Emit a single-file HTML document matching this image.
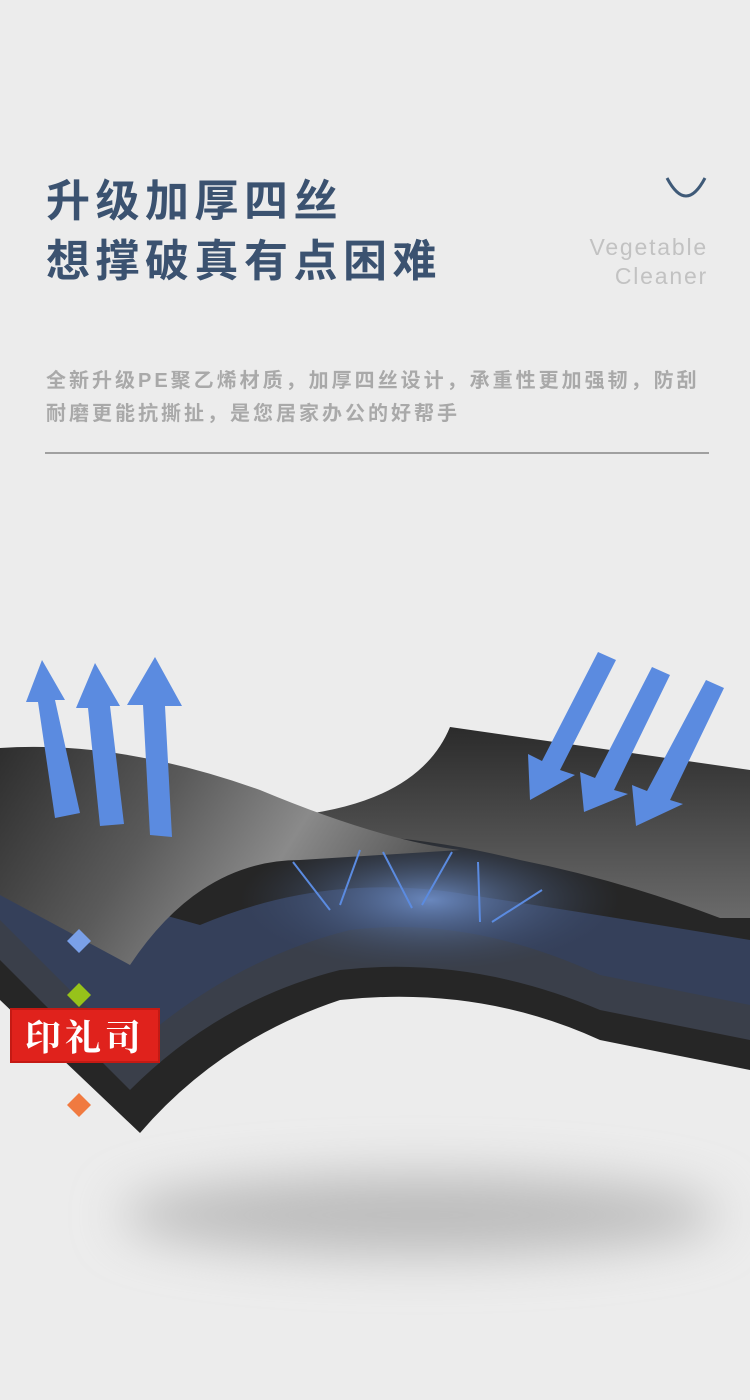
<!DOCTYPE html>
<html><head><meta charset="utf-8"><style>
body{margin:0;width:750px;height:1400px;background:#ececec;overflow:hidden;position:relative;font-family:"Liberation Sans","Noto Sans CJK SC",sans-serif}
.t{position:absolute;left:46px;font-size:44px;font-weight:bold;color:#3b5270;letter-spacing:5.5px;line-height:1}
.s{position:absolute;left:46px;font-size:20px;font-weight:bold;color:#a9a9a9;line-height:1;letter-spacing:3px}
.e{position:absolute;right:42px;font-size:23px;color:#c2c2c2;line-height:1;text-align:right;letter-spacing:1.8px}
</style></head><body>
<div class="t" style="top:180px">升级加厚四丝</div>
<div class="t" style="top:240px">想撑破真有点困难</div>
<svg style="position:absolute;left:664px;top:174px" width="44" height="30"><path d="M3 4 Q22 40 41 4" fill="none" stroke="#3f5a78" stroke-width="3"/></svg>
<div class="e" style="top:236px">Vegetable</div>
<div class="e" style="top:265px">Cleaner</div>
<div class="s" style="top:371px">全新升级PE聚乙烯材质，加厚四丝设计，承重性更加强韧，防刮</div>
<div class="s" style="top:404px">耐磨更能抗撕扯，是您居家办公的好帮手</div>
<div style="position:absolute;left:45px;top:452px;width:664px;height:2px;background:#a0a0a0"></div>
<svg style="position:absolute;left:0;top:0" width="750" height="1400">
<defs>
<linearGradient id="g1" x1="0" y1="0" x2="1" y2="0.3"><stop offset="0" stop-color="#2e2e2e"/><stop offset="0.4" stop-color="#5a5a5a"/><stop offset="0.7" stop-color="#8a8a8a"/><stop offset="1" stop-color="#555"/></linearGradient>
<linearGradient id="g2" x1="0" y1="0" x2="0" y2="1"><stop offset="0" stop-color="#2b2b2b"/><stop offset="1" stop-color="#6a6a6a"/></linearGradient>
<radialGradient id="bl" cx="0.5" cy="0.5" r="0.5"><stop offset="0" stop-color="#6f8fc8" stop-opacity="0.9"/><stop offset="1" stop-color="#3a4a68" stop-opacity="0"/></radialGradient>
<filter id="bf" x="-50%" y="-200%" width="200%" height="500%"><feGaussianBlur stdDeviation="25"/></filter>
</defs>
<ellipse cx="420" cy="1215" rx="300" ry="40" fill="#bcbcbc" filter="url(#bf)"/>
<path d="M0 870 L0 1000 L140 1133 Q220 1040 340 1000 Q480 985 600 1040 L750 1070 L750 890 L600 860 L300 825 Z" fill="#262626"/>
<path d="M0 960 L130 1090 Q220 1000 340 970 Q470 955 600 1010 L750 1040 L750 975 Q600 960 470 930 Q330 900 200 960 L0 900 Z" fill="#3a3f4a"/>
<path d="M0 920 L130 1050 Q230 960 350 930 Q470 915 600 975 L750 1005 L750 940 Q600 915 470 895 Q330 870 200 925 L0 870 Z" fill="#35405a"/>
<ellipse cx="430" cy="900" rx="190" ry="70" fill="url(#bl)"/>
<path d="M450 727 L750 770 L750 918 L720 918 Q620 880 520 860 Q440 840 360 835 L300 815 Q420 800 450 727 Z" fill="url(#g2)"/>
<path d="M0 748 Q120 740 260 790 Q380 840 460 850 L300 860 Q200 860 130 965 L0 895 Z" fill="url(#g1)"/>
<g fill="#5b8be0">
<polygon points="55,818 80,813 55,700 65,700 42,660 26,702 38,702"/>
<polygon points="100,826 124,824 110,706 120,706 95,663 76,708 88,708"/>
<polygon points="150,835 172,837 165,706 182,706 155,657 127,705 143,705"/>
<polygon points="598,652 616,660 560,770 575,775 530,800 528,754 542,761"/>
<polygon points="652,667 670,675 614,790 628,794 584,812 580,772 595,778"/>
<polygon points="706,680 724,688 670,800 683,804 636,826 632,785 647,791"/>
</g>
<g stroke="#5b8be0" stroke-width="2" fill="none">
<path d="M330 910 L293 862 M340 905 L360 850 M412 908 L383 852 M422 905 L452 852 M480 922 L478 862 M492 922 L542 890"/>
</g>
<g fill="#7aa0e8"><polygon points="79,929 91,941 79,953 67,941"/><polygon points="79,983 91,995 79,1007 67,995" fill="#97c21a"/><polygon points="79,1093 91,1105 79,1117 67,1105" fill="#f07a40"/></g>
</svg>
<div style="position:absolute;left:10px;top:1008px;width:150px;height:55px;background:#e0221c;border:2px solid #c41a14;box-sizing:border-box;color:#fff;font-size:36px;font-weight:bold;font-family:'Noto Serif CJK SC',serif;text-align:center;line-height:52px;letter-spacing:4px">印礼司</div>
</body></html>
